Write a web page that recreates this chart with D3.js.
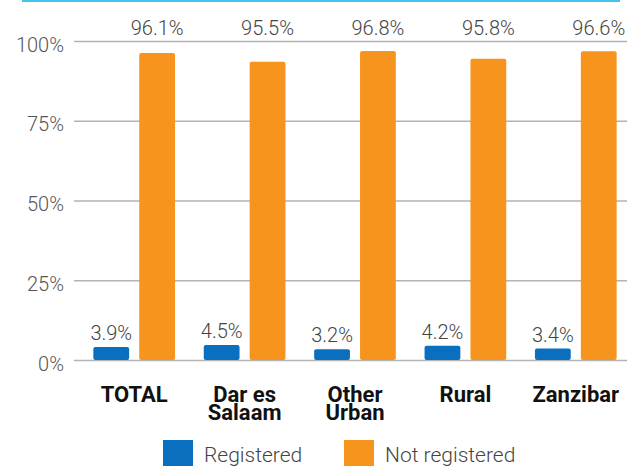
<!DOCTYPE html>
<html>
<head>
<meta charset="utf-8">
<script src="https://cdn.jsdelivr.net/npm/d3@7"></script>
<style>
  body { margin:0; background:#fff; }
  .tick line { stroke:#b3b3b3; stroke-width:1.5; }
  .tick text { font-family:Roboto, sans-serif; font-weight:300; font-size:20px; fill:#555; }
  .val { font-family:Roboto, sans-serif; font-weight:300; font-size:20px; fill:#444; text-anchor:middle; }
  .cat { font-family:Roboto, sans-serif; font-weight:bold; font-size:22px; fill:#111; text-anchor:middle; }
  .leg { font-family:Roboto, sans-serif; font-weight:300; font-size:21px; fill:#444; }
</style>
</head>
<body>
<div class="canvas"></div>
<script>
// categories and values
var categories = ["TOTAL", "Dar es Salaam", "Other Urban", "Rural", "Zanzibar"];
var catLines = [["TOTAL"], ["Dar es", "Salaam"], ["Other", "Urban"], ["Rural"], ["Zanzibar"]];
var series = ["Registered", "Not registered"];
var registered = [4.1, 4.7, 3.4, 4.5, 3.6];
var notRegistered = [96.2, 93.5, 96.9, 94.4, 96.8];
var registeredLabels = ["3.9%", "4.5%", "3.2%", "4.2%", "3.4%"];
var notRegisteredLabels = ["96.1%", "95.5%", "96.8%", "95.8%", "96.6%"];
var yTicks = [0, 25, 50, 75, 100];
var colors = ["#0a6fbf", "#f7941d"];

var W = 627, H = 466;
var svg = d3.select('.canvas')
    .append('svg')
    .attr('width', W)
    .attr('height', H);

// top cyan rule
svg.append('rect')
    .attr('x', 22).attr('y', 0)
    .attr('width', 598).attr('height', 2)
    .style('fill', '#45c3ef');

var y = d3.scaleLinear().domain([0, 100]).range([360, 41]);
var x = d3.scaleBand().domain(categories).range([79, 631]).paddingInner(0.26).paddingOuter(0.13);
var xs = d3.scaleBand().domain(series).range([0, x.bandwidth()]).paddingInner(0.22);

var gridLeft = 74;
svg.append('g')
    .attr('class', 'axis')
    .attr('transform', 'translate(' + gridLeft + ',0)')
    .call(d3.axisLeft(y).tickValues(yTicks).tickSize(-(W - gridLeft)).tickPadding(10)
        .tickFormat(function(d){ return d + '%'; }))
    .call(function(g){ g.select('.domain').remove(); })
    .selectAll('.tick text').attr('dy', '0.5em');

var rows = categories.map(function(c, i){
    return {cat:c, vals:[
        {s:series[0], v:registered[i], label:registeredLabels[i]},
        {s:series[1], v:notRegistered[i], label:notRegisteredLabels[i]}
    ]};
});

var group = svg.append('g').selectAll('.group')
    .data(rows)
    .enter()
    .append('g')
    .attr('class', 'group')
    .attr('transform', function(d){ return 'translate(' + x(d.cat) + ',0)'; });

group.selectAll('rect')
    .data(function(d){ return d.vals; })
    .enter()
    .append('rect')
    .attr('x', function(d){ return xs(d.s); })
    .attr('y', function(d){ return y(d.v); })
    .attr('width', xs.bandwidth())
    .attr('height', function(d){ return y(0) - y(d.v); })
    .attr('rx', 2)
    .style('fill', function(d, i){ return colors[i]; });

group.selectAll('.val')
    .data(function(d){ return d.vals; })
    .enter()
    .append('text')
    .attr('class', 'val')
    .attr('x', function(d){ return xs(d.s) + xs.bandwidth() / 2; })
    .attr('y', function(d, i){ return i == 0 ? y(d.v) - 7 : y(100) - 6; })
    .text(function(d){ return d.label; });

// category labels
var cat = svg.append('g').selectAll('.cat')
    .data(categories)
    .enter()
    .append('text')
    .attr('class', 'cat')
    .attr('x', function(d){ return x(d) + x.bandwidth() / 2; })
    .attr('y', 402);
cat.selectAll('tspan')
    .data(function(d, i){ return catLines[i]; })
    .enter()
    .append('tspan')
    .attr('x', function(){ return this.parentNode.getAttribute('x'); })
    .attr('dy', function(d, i){ return i == 0 ? 0 : 18; })
    .text(function(d){ return d; });

// legend
var legX = [163, 344];
var leg = svg.append('g').selectAll('.legitem')
    .data(series)
    .enter()
    .append('g')
    .attr('transform', function(d, i){ return 'translate(' + legX[i] + ',440)'; });
leg.append('rect')
    .attr('width', 30).attr('height', 30)
    .style('fill', function(d, i){ return colors[i]; });
leg.append('text')
    .attr('class', 'leg')
    .attr('x', 41).attr('y', 22)
    .text(function(d){ return d; });
</script>
</body>
</html>
